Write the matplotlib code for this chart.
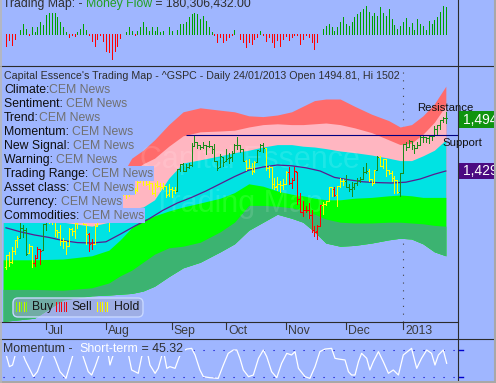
import numpy as np
import matplotlib
matplotlib.use("Agg")
import matplotlib.pyplot as plt
from matplotlib.collections import LineCollection
from matplotlib.patches import FancyBboxPatch, Rectangle

plt.rcParams['font.family'] = ['Liberation Sans', 'DejaVu Sans']

# ------------------------------------------------------------------ data
months = ["Jul", "Aug", "Sep", "Oct", "Nov", "Dec", "2013"]
month_idx = [14, 35, 58, 77, 98, 119, 139]

opens = [1308.9,1324.0,1314.9,1329.2,1342.4,1344.8,1358.0,1355.4,1325.9,1334.9,1314.0,1320.0,1331.5,1330.1,
         1362.3,1365.8,1373.7,1367.1,1354.7,1353.0,1341.4,1341.3,1334.8,1356.5,1353.7,1363.6,1373.0,1376.5,1362.3,1350.5,1338.4,1338.2,1360.1,1385.9,1385.3,
         1379.3,1375.1,1365.5,1391.0,1394.5,1401.2,1402.3,1402.6,1405.9,1404.4,1404.0,1405.6,1415.8,1417.8,1418.1,1413.1,1413.5,1402.0,1411.1,1410.4,1409.3,1410.1,1400.1,
         1406.5,1404.9,1403.7,1432.1,1437.9,1429.1,1433.6,1436.6,1460.1,1465.4,1461.2,1459.5,1461.1,1460.3,1459.8,1456.9,1441.6,1433.4,1447.1,
         1440.9,1445.0,1446.1,1451.1,1461.4,1460.9,1455.9,1441.5,1432.8,1432.8,1428.8,1440.3,1454.2,1460.9,1457.3,1433.2,1433.7,1413.2,1409.7,1413.0,1411.0,
         1412.2,1427.6,1414.0,1417.3,1428.3,1394.5,1377.6,1379.9,1380.0,1374.6,1355.4,1353.4,1359.9,1386.8,1387.8,1391.0,1409.2,1406.3,1398.8,1410.0,1416.0,
         1416.3,1409.5,1407.1,1409.4,1414.0,1418.1,1418.6,1427.8,1428.5,1419.5,1413.5,1430.5,1446.8,1435.8,1443.7,1430.2,1426.7,1419.8,1418.1,1402.4,
         1426.2,1462.4,1459.4,1466.5,1461.9,1457.2,1461.0,1472.1,1472.1,1470.7,1472.3,1472.6,1481.0,1486.0,1492.6,1494.8]
highs = [1324.3,1327.3,1333.7,1343.3,1348.2,1363.5,1361.6,1358.3,1337.8,1334.9,1324.2,1334.4,1331.5,1362.2,
         1366.4,1374.8,1373.9,1367.1,1354.9,1361.5,1345.0,1341.3,1357.7,1357.3,1365.4,1375.3,1380.4,1376.5,1362.3,1351.5,1344.0,1363.1,1389.2,1391.7,1387.2,
         1385.0,1375.1,1394.2,1399.6,1407.1,1404.1,1405.9,1405.9,1405.9,1410.0,1407.7,1417.4,1418.7,1418.6,1426.7,1416.1,1413.5,1413.5,1416.2,1413.6,1413.9,1410.1,1413.1,
         1409.3,1408.8,1432.1,1437.9,1438.7,1437.8,1439.2,1463.8,1474.5,1465.6,1461.5,1465.1,1461.2,1467.1,1460.7,1463.2,1441.6,1450.2,1447.1,
         1457.1,1451.5,1454.3,1463.1,1471.0,1460.9,1455.9,1442.5,1443.9,1438.4,1441.3,1455.5,1462.2,1464.0,1457.3,1435.5,1433.7,1420.0,1421.1,1417.1,1418.8,
         1428.4,1434.3,1419.9,1433.4,1428.3,1401.2,1391.4,1384.9,1388.8,1380.1,1360.6,1362.0,1386.9,1389.8,1391.3,1409.2,1409.2,1409.0,1410.0,1419.7,1418.9,
         1423.7,1413.1,1415.6,1414.0,1420.3,1421.6,1434.3,1438.6,1431.4,1419.5,1430.7,1448.0,1447.8,1443.7,1443.7,1430.2,1429.4,1422.8,1418.1,1426.7,
         1462.4,1465.5,1467.9,1466.5,1461.9,1464.7,1472.3,1472.8,1472.1,1473.3,1474.0,1485.2,1486.0,1492.6,1496.1,1502.3]
lows = [1306.6,1310.5,1314.1,1325.8,1334.5,1344.8,1346.5,1324.4,1325.9,1309.3,1310.3,1320.0,1313.3,1330.1,
        1355.7,1363.5,1363.0,1348.0,1346.7,1336.3,1333.2,1325.4,1334.8,1348.5,1345.1,1358.1,1371.2,1362.2,1337.6,1329.2,1331.5,1338.2,1360.1,1381.4,1379.2,
        1373.6,1354.6,1365.5,1391.0,1394.5,1396.6,1398.8,1395.6,1397.3,1400.6,1401.5,1404.2,1414.7,1412.1,1410.9,1406.8,1400.5,1398.0,1409.1,1405.6,1406.8,1397.0,1398.0,
        1396.6,1401.3,1403.7,1429.2,1429.0,1429.1,1433.0,1435.3,1460.1,1457.6,1456.1,1457.9,1450.0,1459.5,1452.1,1441.6,1430.5,1433.4,1435.6,
        1440.9,1439.0,1442.0,1451.1,1456.9,1453.1,1441.2,1430.6,1432.8,1425.5,1427.2,1440.3,1453.4,1452.6,1429.9,1422.1,1407.6,1407.1,1405.1,1403.3,1406.0,
        1412.2,1412.9,1408.1,1417.3,1388.1,1377.5,1373.0,1377.2,1370.8,1352.9,1348.1,1343.4,1359.9,1374.8,1386.4,1391.0,1397.7,1398.0,1385.4,1409.0,1411.6,
        1408.5,1403.6,1398.2,1405.9,1410.9,1415.6,1418.6,1426.8,1416.0,1411.9,1413.5,1430.5,1435.8,1432.8,1422.6,1424.7,1416.4,1401.8,1401.6,1398.1,
        1426.2,1455.5,1459.0,1456.6,1451.6,1457.2,1461.0,1465.7,1465.7,1463.7,1467.6,1472.6,1475.8,1481.2,1489.9,1489.5]
closes = [1324.18,1314.88,1329.10,1342.84,1344.78,1357.98,1355.69,1325.51,1335.02,1313.72,1319.99,1331.85,1329.04,1362.16,
          1365.51,1374.02,1367.58,1354.68,1352.46,1341.47,1341.45,1334.76,1356.78,1353.64,1363.67,1372.78,1376.51,1362.66,1350.52,1338.31,1337.89,1360.02,1385.97,1385.30,1379.32,
          1375.32,1365.00,1390.99,1394.23,1401.35,1402.22,1402.80,1405.87,1404.11,1403.93,1405.53,1415.51,1418.16,1418.13,1413.17,1413.49,1402.08,1411.13,1410.44,1409.30,1410.49,1399.48,1406.58,
          1404.94,1403.44,1432.12,1437.92,1429.08,1433.56,1436.56,1459.99,1465.77,1461.19,1459.32,1461.05,1460.26,1460.15,1456.89,1441.59,1433.32,1447.15,1440.67,
          1444.49,1445.75,1450.99,1461.40,1460.93,1455.88,1441.48,1432.56,1432.84,1428.59,1440.13,1454.92,1460.91,1457.34,1433.19,1433.82,1413.11,1408.75,1412.97,1411.94,1412.16,
          1427.59,1414.20,1417.26,1428.39,1394.53,1377.51,1379.85,1380.03,1374.53,1355.49,1353.33,1359.88,1386.89,1387.81,1391.03,1409.15,1406.29,1398.94,1409.93,1415.95,1416.18,
          1409.46,1407.05,1409.28,1413.94,1418.07,1418.55,1427.84,1428.48,1419.45,1413.58,1430.36,1446.79,1435.81,1443.69,1430.15,1426.66,1419.83,1418.10,1402.43,1426.19,
          1462.42,1459.37,1466.47,1461.89,1457.15,1461.02,1472.12,1472.05,1470.68,1472.34,1472.63,1480.94,1485.98,1492.56,1494.81,1494.82]

# Buy (G) / Sell (R) / Hold (Y) signal runs
signal_runs = [("Y", 5), ("G", 3), ("Y", 2), ("R", 3), ("G", 2), ("Y", 14), ("R", 2), ("Y", 29),
               ("G", 24), ("Y", 4), ("G", 3), ("Y", 8), ("R", 12), ("Y", 4), ("R", 1), ("Y", 3),
               ("G", 8), ("Y", 3), ("G", 1), ("Y", 7), ("G", 17)]

money_flow = [-12,-6,-11,-5,0,4,10,5,-1,7,2,7,12,9,19,21,21,21,17,12,7,2,-3,-1,-2,2,5,10,4,-1,
              -7,-12,-5,-1,-7,-17,-18,-25,-17,-12,-4,0,2,7,3,-1,3,7,12,7,3,7,3,7,2,3,0,7,3,0,
              4,10,10,12,17,20,21,20,15,18,13,7,2,-1,-8,-3,-8,-6,-3,-1,4,0,-5,-8,-13,-8,-10,-5,-3,3,
              -1,-7,-3,-8,-13,-6,-12,-5,-2,-6,-3,-1,-1,-10,-5,-1,-3,-8,-15,-8,0,5,8,10,7,3,7,12,17,10,
              8,12,17,20,22,25,28,22,18,21,18,27,21,18,25,15,9,5,8,12,16,7,11,4,15,10,8,4,13,10,14,17,22,28,27]

ma_idx = [0, 5, 10, 15, 20, 25, 30, 35, 40, 45, 50, 55, 60, 65, 70, 75, 80, 85, 90, 95, 100,
          105, 110, 115, 120, 125, 130, 135, 140, 145, 150, 154]
ma_val = [1358, 1353, 1349, 1346, 1342, 1339.5, 1339, 1340.5, 1350, 1360, 1369, 1380, 1389, 1396,
          1404, 1413, 1422, 1430, 1434, 1436.5, 1435.5, 1433, 1429, 1421, 1418, 1415.5, 1414.5,
          1414, 1415, 1419, 1425, 1429]

band_idx = [-1, 10, 20, 30, 36, 40, 44, 48, 52, 57, 62, 68, 75, 80, 85, 90, 95, 100, 104, 108,
            112, 117, 122, 128, 134, 138, 142, 146, 150, 154]
band_red_top = [1405, 1405, 1408, 1408, 1410, 1420, 1445, 1455, 1468, 1487, 1503, 1508, 1505, 1503,
                1498, 1497, 1499, 1503, 1510, 1517, 1519, 1519, 1510, 1500, 1492, 1484, 1487, 1498, 1513, 1535]
band_pink_top = [1387, 1387, 1385, 1383, 1387, 1398, 1428, 1438, 1445, 1460, 1473, 1478, 1479, 1480,
                 1484, 1487, 1488, 1487, 1487, 1488, 1489, 1487, 1483, 1477, 1468, 1462, 1464, 1475, 1490, 1511]
band_cyan_top = [1367, 1367, 1365, 1360, 1365, 1378, 1382, 1384, 1393, 1420, 1439, 1443, 1448, 1452,
                 1455, 1459, 1462, 1462, 1460, 1459, 1457, 1454, 1452, 1449, 1445, 1442, 1442, 1448, 1455, 1468]
band_green_top = [1318, 1318, 1319, 1323, 1330, 1343, 1358, 1368, 1373, 1379, 1384, 1389, 1395, 1402,
                  1413, 1410, 1404, 1400, 1398, 1395, 1393, 1393, 1395, 1396, 1398, 1399, 1398, 1396, 1396, 1396]
band_sea_top = [1281, 1281, 1280, 1283, 1289, 1298, 1305, 1315, 1325, 1333, 1335, 1340, 1353, 1365,
                1386, 1386, 1385, 1383, 1380, 1375, 1369, 1365, 1364, 1364, 1365, 1365, 1364, 1363, 1361, 1360]
band_sea_bottom = [1241, 1245, 1268, 1273, 1274, 1275, 1276, 1279, 1285, 1297, 1308, 1315, 1328, 1338,
                   1355, 1365, 1375, 1370, 1365, 1353, 1339, 1335, 1336, 1339, 1343, 1345, 1344, 1338, 1328, 1323]

mom_idx = [0, 1.2, 2.3, 3.7, 5.1, 6.7, 9.6, 11.0, 13.7, 15.4, 17.2, 18.9, 21.0, 22.4, 24.2, 26.5,
           28.8, 30.0, 31.2, 33.5, 35.8, 36.4, 37.6, 39.9, 42.8, 44.0, 46.3, 47.5, 49.2, 50.4, 52.2,
           53.3, 55.1, 56.3, 57.4, 59.2, 60.4, 61.5, 63.3, 65.0, 66.2, 67.9, 69.1, 71.4, 74.3, 76.1,
           77.8, 79.6, 80.8, 81.9, 83.1, 84.9, 86.6, 88.4, 90.1, 91.3, 93.0, 94.8, 96.5, 98.3, 100.0,
           101.2, 102.4, 104.7, 106.4, 108.2, 109.9, 111.7, 114.0, 115.2, 116.4, 118.7, 119.9, 121.0,
           122.2, 123.4, 124.5, 126.3, 127.4, 128.6, 130.4, 132.1, 133.9, 135.6, 137.4, 139.1, 142.0,
           143.8, 145.5, 147.3, 149.0, 150.2, 151.4, 153.1, 154.3]
mom_val = [70, 42.6, 46.3, 80, 85, 57.6, 20.1, 31.3, 80, 85, 60, 31.3, 16.3, 46.3, 85, 75, 31.3, 23.8,
           42.6, 85, 70, 46.3, 70, 85, 72, 35.1, 27.6, 65, 85, 46.3, 27.6, 38.8, 80, 38.8, 42.6, 38.8,
           60, 76.3, 82.2, 83.7, 68.8, 35.1, 20.1, 17.8, 16.3, 46.3, 72.5, 80, 80, 61.3, 35.1, 20.1,
           23.8, 61.3, 80, 65, 31.3, 17.8, 50.1, 72.5, 68.8, 76.3, 38.8, 20.1, 16.3, 42.6, 76.3, 82.2,
           83.7, 61.3, 59.8, 57.6, 31.3, 23.8, 23.8, 53.8, 72.5, 61.3, 35.1, 53.8, 76.3, 53.8, 27.6,
           35.1, 23.8, 68.8, 83.7, 38.8, 61.3, 80, 72.5, 46.3, 68.8, 80, 50.1]
mom_levels = [80, 20]

resistance_level = 1474.51
support_start_idx = 63
last_close_label = "1,494"
ma_last_label = "1,429"

title_main = "Capital Essence's Trading Map - ^GSPC - Daily 24/01/2013 Open 1494.81, Hi 1502"
indicator_names = ["Climate:", "Sentiment: ", "Trend:", "Momentum: ", "New Signal: ", "Warning: ",
                   "Trading Range: ", "Asset class: ", "Currency: ", "Commodities: "]
indicator_value = "CEM News"

# ------------------------------------------------------------------ figure
W, H, DPI = 496, 383, 100
BG = "#9FB6FF"
FS = 8.8
fig = plt.figure(figsize=(W / DPI, H / DPI), dpi=DPI)
fig.patch.set_facecolor(BG)
XL = (-1.05, 158.26)


def add_ax(x0, y0, x1, y1):
    a = fig.add_axes([x0 / W, 1 - y1 / H, (x1 - x0) / W, (y1 - y0) / H])
    a.set_facecolor(BG)
    a.set_xlim(*XL)
    a.set_xticks([])
    a.set_yticks([])
    for s in a.spines.values():
        s.set_visible(False)
    return a


ax_top = add_ax(3, 0, 458, 65)
ax_top.set_ylim(-31.5, 33.5)
ax = add_ax(3, 66, 458, 322)
ax.set_ylim(1240.25, 1560.25)
ax_mom = add_ax(3, 340, 458, 380)
ax_mom.set_ylim(12.6, 102.5)

ov = fig.add_axes([0, 0, 1, 1])
ov.set_xlim(0, W)
ov.set_ylim(H, 0)
ov.axis('off')
ov.patch.set_alpha(0)
ov.set_zorder(10)

# ---- money flow panel
mfx = np.arange(len(money_flow))
mf_cols = ["#00A000" if v > 0 else "#FF0000" for v in money_flow]
ax_top.vlines(mfx, 0, money_flow, colors=mf_cols, lw=0.6, antialiased=False)

# ---- bands (paint each layer down to the bottom to avoid seams)
bi = np.array(band_idx, dtype=float)
layers = [(band_red_top, "#FF6B6B"), (band_pink_top, "#FFB6C1"), (band_cyan_top, "#00E3E3"),
          (band_green_top, "#00FF00"), (band_sea_top, "#3CB371")]
for top, col in layers:
    ax.fill_between(bi, band_sea_bottom, top, color=col, lw=0, zorder=1)

# 2013 divider
ax.axvline(month_idx[-1], color="#444444", lw=0.8, ls=(0, (1, 6)), zorder=0.5)

# watermark
ax.text(250, 160, "Capital Essence", transform=ov.transData, fontsize=22, color="white",
        alpha=0.12, ha='center', va='center', zorder=2)
ax.text(238, 204, "Trading Map", transform=ov.transData, fontsize=22, color="white",
        alpha=0.12, ha='center', va='center', zorder=2)

# moving average
ax.plot(ma_idx, ma_val, color="#5B1A8F", lw=0.9, zorder=3)

# price bars
sig = "".join(c * n for c, n in signal_runs)
cmap = {"G": "#1A8C1A", "R": "#FF0000", "Y": "#FFFF00"}
segs, cols = [], []
for i in range(len(closes)):
    c = cmap[sig[i]]
    segs += [[(i, lows[i]), (i, highs[i])], [(i - 0.4, opens[i]), (i, opens[i])],
             [(i, closes[i]), (i + 0.4, closes[i])]]
    cols += [c, c, c]
ax.add_collection(LineCollection(segs, colors=cols, lw=0.6, antialiased=False, zorder=4))

# resistance line
ax.hlines(resistance_level, support_start_idx, XL[1], color="#000080", lw=0.8, zorder=5)

# ---- momentum panel
for lv in mom_levels:
    ax_mom.axhline(lv, color="#0000CD", lw=0.8, ls=(0, (1, 8)))
ax_mom.plot(mom_idx, mom_val, color="white", lw=0.9)

# ---- overlay: text, frames
DARK = "#2E2E2E"


def two_tone(x, y, parts, size=FS, bbox=True):
    if bbox:
        ov.text(x, y, "".join(p for p, _ in parts), fontsize=size, color='none', va='center',
                ha='left', zorder=1,
                bbox=dict(boxstyle='square,pad=0.12', fc=BG, ec='none'))
    prev = None
    for txt, col in parts:
        if prev is None:
            prev = ov.text(x, y, txt, fontsize=size, color=col, va='center', ha='left', zorder=2)
        else:
            prev = ov.annotate(txt, xy=(1, 0.5), xycoords=prev, fontsize=size, color=col,
                               va='center', ha='left', zorder=2)


two_tone(3, 4.0, [("Trading Map: - ", DARK), ("Money Flow", "#22A022"),
                  (" = 180,306,432.00", DARK)], bbox=False)
two_tone(4, 75.7, [(title_main, DARK)], size=7.7)
for k, name in enumerate(indicator_names):
    two_tone(4, 89.7 + 14 * k, [(name, "#0E0E0E"), (indicator_value, "#707070")])
two_tone(3, 349, [("Momentum -  ", DARK), ("Short-term", "white"), (" = 45.32", DARK)], size=8.9)

ov.text(417, 108, "Resistance", fontsize=8.2, color="#111111", va='center', ha='left', zorder=3)
ov.text(442, 143, "Support", fontsize=8.2, color="#111111", va='center', ha='left', zorder=3)

# right value labels
ov.add_patch(Rectangle((459, 111), 37, 17, fc="#0F930F", ec='none', zorder=3))
ov.text(463, 119.5, last_close_label, fontsize=10, color="white", va='center', ha='left', zorder=4)
ov.add_patch(Rectangle((459, 163), 37, 16, fc="#4B0A82", ec='none', zorder=3))
ov.text(463, 171, ma_last_label, fontsize=10, color="white", va='center', ha='left', zorder=4)

# legend
ov.add_patch(FancyBboxPatch((13, 298), 130, 19, boxstyle="round,pad=0,rounding_size=5",
                            fc=(0.62, 0.66, 0.82, 0.55), ec="#C8D8FF", lw=1, zorder=3))
for x0, c1, c2 in [(16, "#7CFC00", "#DDEE00"), (56, "#FF0000", "#CC2244"), (97, "#FFFF00", "#E8D800")]:
    for j in range(5):
        ov.plot([x0 + 2.5 * j, x0 + 2.5 * j], [302, 311], color=(c1 if j % 2 == 0 else c2),
                lw=0.6, zorder=4, antialiased=False)
for x0, s in [(32, "Buy"), (71, "Sell"), (114, "Hold")]:
    ov.text(x0, 307, s, fontsize=FS, color="#151515", va='center', ha='left', zorder=4)

# x axis band
for idx, lab in zip(month_idx, months):
    xp = 6 + 2.856 * idx
    ov.plot([xp, xp], [323, 329], color="#333333", lw=0.8, zorder=4)
    ov.text(xp + 2, 331, lab, fontsize=FS, color="#3A3A3A", va='center', ha='left', zorder=4)

LC = "#2B2B2B"
ov.plot([0, W], [65.5, 65.5], color=LC, lw=0.8, zorder=5)
ov.plot([0, 458], [322, 322], color=LC, lw=0.8, zorder=5)
ov.plot([0, W], [339, 339], color=LC, lw=0.8, zorder=5)
ov.plot([458, 458], [0, 381], color=LC, lw=0.8, zorder=5)
for yy in (350, 376.5):
    ov.plot([459, 462.5], [yy, yy], color="#0000CD", lw=1.0, zorder=5)

# outer frame
ov.plot([0, W], [382, 382], color="#A8A8A8", lw=2.2, zorder=6)
ov.plot([495, 495], [0, H], color="#A8A8A8", lw=2.2, zorder=6)
ov.plot([0.5, 0.5], [0, H], color="#B8B8B8", lw=1.2, zorder=6)

fig.savefig("out.png", dpi=DPI, facecolor=BG)
